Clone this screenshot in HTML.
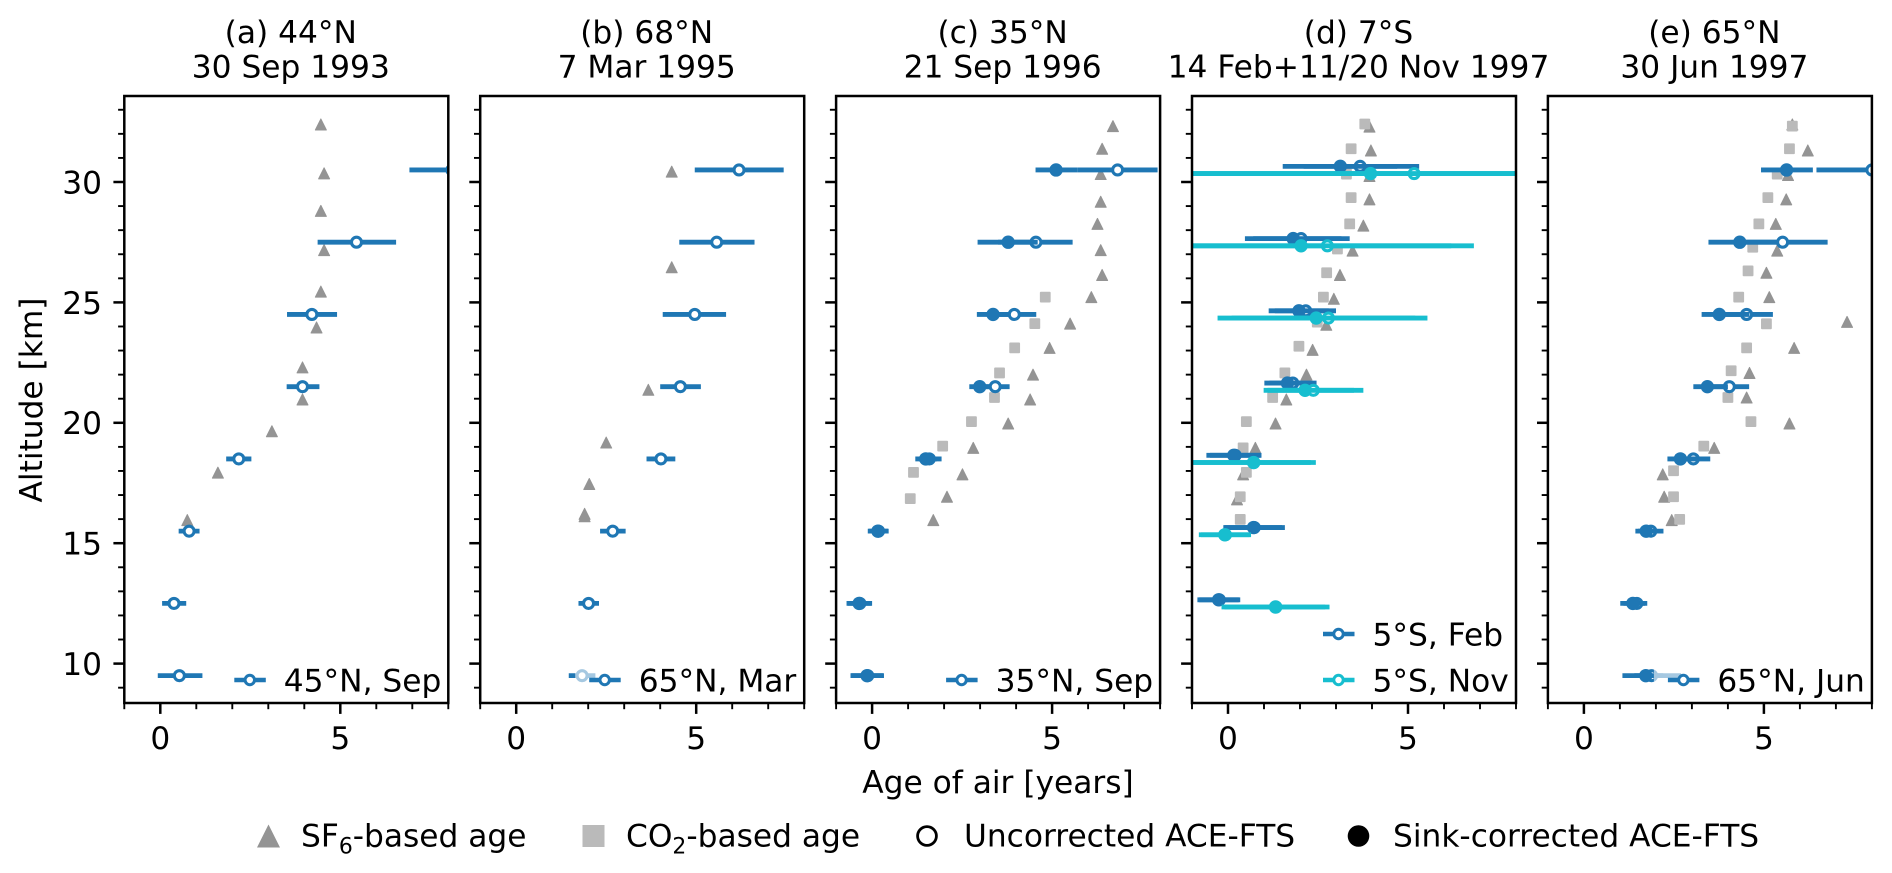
<!DOCTYPE html>
<html lang="en">
<head>
<meta charset="utf-8">
<title>Age of air profiles</title>
<style>
html,body{margin:0;padding:0;background:#fff;width:1892px;height:873px;overflow:hidden}
svg{display:block}
text{font-family:"DejaVu Sans","Liberation Sans",sans-serif;fill:#000}
</style>
</head>
<body>
<svg id="chart" xmlns="http://www.w3.org/2000/svg" width="1892" height="873" viewBox="0 0 1892 873"></svg>
<script>
// ---------- Data: ages in years, altitudes in km ----------
const xTickLabels = [0, 5];
const yTickLabels = [10, 15, 20, 25, 30];

const titlesTop = ['(a) 44°N', '(b) 68°N', '(c) 35°N', '(d) 7°S', '(e) 65°N'];
const titlesBottom = ['30 Sep 1993', '7 Mar 1995', '21 Sep 1996', '14 Feb+11/20 Nov 1997', '30 Jun 1997'];
const legendLabels = ['45°N, Sep', '65°N, Mar', '35°N, Sep', '5°S, Feb', '5°S, Nov', '65°N, Jun'];

const aSf6Alt = [32.39, 30.36, 28.8, 27.17, 25.45, 23.96, 22.3, 20.97, 19.65, 17.93, 15.96];
const aSf6Age = [4.46, 4.55, 4.46, 4.55, 4.46, 4.34, 3.95, 3.95, 3.1, 1.6, 0.75];
const aAlt = [30.5, 27.5, 24.5, 21.5, 18.5, 15.5, 12.5, 9.5];
const aOpen = [8.1, 5.45, 4.21, 3.95, 2.18, 0.8, 0.38, 0.53];
const aOpenLo = [6.92, 4.37, 3.52, 3.51, 1.83, 0.51, 0.05, -0.07];
const aOpenHi = [9.3, 6.55, 4.91, 4.42, 2.53, 1.09, 0.72, 1.17];

const bSf6Alt = [30.43, 26.46, 21.37, 19.18, 17.46, 16.22, 16.12];
const bSf6Age = [4.32, 4.32, 3.67, 2.5, 2.03, 1.9, 1.9];
const bAlt = [30.5, 27.5, 24.5, 21.5, 18.5, 15.5, 12.5, 9.5];
const bOpen = [6.19, 5.57, 4.96, 4.56, 4.02, 2.68, 2.01, 1.83];
const bOpenLo = [4.96, 4.53, 4.07, 4.0, 3.62, 2.33, 1.73, 1.46];
const bOpenHi = [7.43, 6.62, 5.83, 5.13, 4.42, 3.04, 2.3, 2.2];

const cSf6Alt = [32.32, 31.38, 30.33, 29.18, 28.26, 27.17, 26.14, 25.22, 24.12, 23.11, 22.0, 20.97, 19.97, 18.96, 17.86, 16.93, 15.96];
const cSf6Age = [6.69, 6.39, 6.35, 6.35, 6.26, 6.35, 6.39, 6.09, 5.5, 4.93, 4.47, 4.39, 3.78, 2.81, 2.51, 2.08, 1.7];
const cCo2Alt = [25.22, 24.12, 23.11, 22.07, 21.05, 20.05, 19.03, 17.94, 16.85];
const cCo2Age = [4.81, 4.52, 3.96, 3.54, 3.4, 2.76, 1.96, 1.15, 1.06];
const cAlt = [30.5, 27.5, 24.5, 21.5, 18.5, 15.5, 12.5, 9.5];
const cOpen = [6.82, 4.55, 3.95, 3.42, 1.59, 0.18, -0.34, -0.12];
const cOpenLo = [5.7, 3.5, 3.5, 3.05, 1.3, -0.1, -0.68, -0.58];
const cOpenHi = [7.93, 5.57, 4.56, 3.82, 1.93, 0.46, 0.0, 0.33];
const cSink = [5.11, 3.78, 3.36, 2.99, 1.49, 0.16, -0.36, -0.14];
const cSinkLo = [4.54, 2.93, 2.91, 2.7, 1.2, -0.12, -0.71, -0.6];
const cSinkHi = [5.7, 4.6, 3.8, 3.3, 1.8, 0.44, -0.02, 0.3];

const dSf6Alt = [32.3, 31.31, 30.25, 29.28, 28.19, 27.15, 26.14, 25.15, 24.07, 23.03, 22.0, 20.97, 19.97, 18.96, 17.86, 16.82];
const dSf6Age = [3.93, 3.97, 3.93, 3.93, 3.76, 3.46, 3.11, 2.94, 2.73, 2.35, 2.18, 1.62, 1.32, 0.76, 0.42, 0.25];
const dCo2Alt = [32.41, 31.38, 30.33, 29.35, 28.26, 27.22, 26.23, 25.22, 24.18, 23.18, 22.07, 21.05, 20.05, 18.96, 17.94, 16.93, 15.99];
const dCo2Age = [3.8, 3.42, 3.29, 3.42, 3.38, 3.04, 2.74, 2.65, 2.48, 1.97, 1.58, 1.24, 0.51, 0.42, 0.51, 0.34, 0.34];
const dFebAlt = [30.65, 27.65, 24.65, 21.65, 18.65, 15.65, 12.65];
const dFebOpen = [3.67, 2.03, 2.16, 1.8, 0.2, 0.73, -0.24];
const dFebOpenLo = [2.1, 0.7, 1.3, 1.15, -0.5, -0.1, -0.8];
const dFebOpenHi = [5.31, 3.38, 3.0, 2.46, 0.93, 1.58, 0.34];
const dFebSink = [3.12, 1.81, 1.97, 1.65, 0.16, 0.71, -0.26];
const dFebSinkLo = [1.52, 0.47, 1.13, 1.01, -0.6, -0.13, -0.85];
const dFebSinkHi = [4.7, 3.15, 2.8, 2.3, 0.9, 1.5, 0.3];
const dNovAlt = [30.35, 27.35, 24.35, 21.35, 18.35, 15.35, 12.35];
const dNovOpen = [5.17, 2.76, 2.79, 2.37, 0.72, -0.07, 1.33];
const dNovOpenLo = [-1.5, -1.3, 0.1, 1.1, -1.2, -0.75, -0.1];
const dNovOpenHi = [8.9, 6.83, 5.54, 3.76, 2.44, 0.64, 2.82];
const dNovSink = [3.96, 2.03, 2.45, 2.14, 0.71, -0.09, 1.32];
const dNovSinkLo = [-1.5, -1.4, -0.29, 0.99, -1.3, -0.81, -0.18];
const dNovSinkHi = [8.5, 6.2, 5.2, 3.5, 2.3, 0.6, 2.7];

const eSf6Alt = [32.39, 31.31, 30.29, 29.28, 28.26, 27.15, 26.23, 25.22, 24.19, 23.11, 22.07, 21.05, 19.97, 18.96, 17.86, 16.93, 15.96];
const eSf6Age = [5.79, 6.22, 5.67, 5.62, 5.33, 5.37, 5.07, 5.15, 7.31, 5.84, 4.6, 4.52, 5.71, 3.62, 2.19, 2.23, 2.44];
const eCo2Alt = [32.32, 31.38, 30.33, 29.35, 28.26, 27.29, 26.31, 25.22, 24.11, 23.11, 22.16, 21.05, 20.05, 19.03, 18.01, 16.93, 15.99];
const eCo2Age = [5.79, 5.71, 5.37, 5.11, 4.86, 4.69, 4.56, 4.3, 5.07, 4.52, 4.09, 4.0, 4.64, 3.33, 2.49, 2.49, 2.66];
const eAlt = [30.5, 27.5, 24.5, 21.5, 18.5, 15.5, 12.5, 9.5];
const eOpen = [8.0, 5.52, 4.52, 4.04, 3.04, 1.86, 1.47, 1.88];
const eOpenLo = [6.46, 4.4, 3.8, 3.5, 2.6, 1.5, 1.1, 1.4];
const eOpenHi = [9.5, 6.77, 5.25, 4.59, 3.51, 2.21, 1.76, 2.7];
const eSink = [5.63, 4.33, 3.76, 3.43, 2.68, 1.73, 1.36, 1.72];
const eSinkLo = [4.92, 3.46, 3.27, 3.04, 2.32, 1.43, 1.01, 1.07];
const eSinkHi = [6.36, 5.4, 4.6, 4.0, 3.2, 2.0, 1.7, 2.2];

// ---------- Colours ----------
const BLUE = '#1f77b4', CYAN = '#17becf', TRI = '#949494', SQ = '#bababa';

// ---------- Layout and axis functions ----------
const NS = 'http://www.w3.org/2000/svg';
const svg = document.getElementById('chart');
const AX_TOP = 96, AX_BOTTOM = 703, AX_W = 324, AX_FIRST = 124.3, AX_STEP = 355.9;
const FS = 31.25;
function axLeft(i) { return AX_FIRST + i * AX_STEP; }
function xScale(i, v) { return axLeft(i) + (v + 1) * 36; }
function yScale(alt) { return 182 + (30 - alt) * 24.08; }
function mk(tag, attrs, parent) {
  const el = document.createElementNS(NS, tag);
  for (const k in attrs) el.setAttribute(k, attrs[k]);
  parent.appendChild(el);
  return el;
}
function triPts(cx, cy, w, h) {
  return (cx - w / 2) + ',' + (cy + h / 2) + ' ' + cx + ',' + (cy - h / 2) + ' ' + (cx + w / 2) + ',' + (cy + h / 2);
}

function drawTriangles(g, i, ages, alts) {
  ages.forEach(function (v, k) {
    const el = mk('polygon', { points: triPts(xScale(i, v), yScale(alts[k]), 11, 11), fill: TRI, 'stroke-linejoin': 'round', stroke: TRI, 'stroke-width': 1 }, g);
    
    
  });
}
function drawSquares(g, i, ages, alts) {
  ages.forEach(function (v, k) {
    const el = mk('rect', { x: xScale(i, v) - 5.4, y: yScale(alts[k]) - 5.4, width: 10.8, height: 10.8, rx: 1, fill: SQ }, g);
    
    
  });
}
function drawOpen(g, i, ages, lo, hi, alts, color) {
  ages.forEach(function (v, k) {
    const y = yScale(alts[k]);
    const bar = mk('line', { x1: xScale(i, lo[k]), x2: xScale(i, hi[k]), y1: y, y2: y, stroke: color, 'stroke-width': 4.8 }, g);
    
    
    const dot = mk('circle', { cx: xScale(i, v), cy: y, r: 5, fill: '#fff', stroke: color, 'stroke-width': 3.1 }, g);
    
    
  });
}
function drawSink(g, i, ages, lo, hi, alts, color) {
  ages.forEach(function (v, k) {
    const y = yScale(alts[k]);
    const bar = mk('line', { x1: xScale(i, lo[k]), x2: xScale(i, hi[k]), y1: y, y2: y, stroke: color, 'stroke-width': 4.8 }, g);
    
    
    const dot = mk('circle', { cx: xScale(i, v), cy: y, r: 6.7, fill: color }, g);
    
    
  });
}
function drawLegendEntry(g, handleX, y, color, label) {
  const bar = mk('line', { x1: handleX, x2: handleX + 31.5, y1: y, y2: y, stroke: color, 'stroke-width': 4.6 }, g);
  
  
  const dot = mk('circle', { cx: handleX + 15.5, cy: y, r: 4.7, fill: '#fff', stroke: color, 'stroke-width': 3 }, g);
  
  
  const t = mk('text', { x: handleX + 49.5, y: y + 11.5, 'font-size': FS }, g);
  t.textContent = label;
  
  
}

// ---------- Panels ----------
for (let i = 0; i < 5; i++) {
  const L = axLeft(i), R = L + AX_W, C = L + AX_W / 2 + 4.5;
  const clip = mk('clipPath', { id: 'clip' + i }, svg);
  mk('rect', { x: L, y: AX_TOP, width: AX_W, height: AX_BOTTOM - AX_TOP }, clip);

  const panel = mk('g', {}, svg);
  
  

  const t1 = mk('text', { x: C, y: 43, 'font-size': FS, 'text-anchor': 'middle' }, panel);
  t1.textContent = titlesTop[i];
  
  
  const t2 = mk('text', { x: C, y: 77.5, 'font-size': FS, 'text-anchor': 'middle' }, panel);
  t2.textContent = titlesBottom[i];
  
  

  const g = mk('g', { 'clip-path': 'url(#clip' + i + ')' }, panel);
  
  

  if (i === 0) {
    drawTriangles(g, i, aSf6Age, aSf6Alt);
    drawOpen(g, i, aOpen, aOpenLo, aOpenHi, aAlt, BLUE);
  } else if (i === 1) {
    drawTriangles(g, i, bSf6Age, bSf6Alt);
    drawOpen(g, i, bOpen, bOpenLo, bOpenHi, bAlt, BLUE);
  } else if (i === 2) {
    drawTriangles(g, i, cSf6Age, cSf6Alt);
    drawSquares(g, i, cCo2Age, cCo2Alt);
    drawOpen(g, i, cOpen, cOpenLo, cOpenHi, cAlt, BLUE);
    drawSink(g, i, cSink, cSinkLo, cSinkHi, cAlt, BLUE);
  } else if (i === 3) {
    drawTriangles(g, i, dSf6Age, dSf6Alt);
    drawSquares(g, i, dCo2Age, dCo2Alt);
    drawOpen(g, i, dFebOpen, dFebOpenLo, dFebOpenHi, dFebAlt, BLUE);
    drawSink(g, i, dFebSink, dFebSinkLo, dFebSinkHi, dFebAlt, BLUE);
    drawOpen(g, i, dNovOpen, dNovOpenLo, dNovOpenHi, dNovAlt, CYAN);
    drawSink(g, i, dNovSink, dNovSinkLo, dNovSinkHi, dNovAlt, CYAN);
  } else {
    drawTriangles(g, i, eSf6Age, eSf6Alt);
    drawSquares(g, i, eCo2Age, eCo2Alt);
    drawOpen(g, i, eOpen, eOpenLo, eOpenHi, eAlt, BLUE);
    drawSink(g, i, eSink, eSinkLo, eSinkHi, eAlt, BLUE);
  }

  // panel legend with translucent frame
  const lg = mk('g', {}, panel);
  
  
  const handleOffset = [110, 109, 110, 131, 120][i];
  const hx = L + handleOffset;
  const boxTop = i === 3 ? 613 : 659;
  mk('rect', { x: hx - 14, y: boxTop, width: R - 1.5 - (hx - 14), height: AX_BOTTOM - 1.5 - boxTop, fill: '#fff', 'fill-opacity': 0.6 }, lg);
  if (i === 3) {
    drawLegendEntry(lg, hx, 634, BLUE, legendLabels[3]);
    drawLegendEntry(lg, hx, 680, CYAN, legendLabels[4]);
  } else {
    drawLegendEntry(lg, hx, 680, BLUE, legendLabels[i < 3 ? i : 5]);
  }

  // ticks
  for (let a = 9; a <= 33; a++) {
    const major = a % 5 === 0;
    const tick = mk('line', { x1: L - (major ? 10.9 : 6.2), x2: L, y1: yScale(a), y2: yScale(a), stroke: '#000', 'stroke-width': major ? 2.5 : 1.9 }, panel);
    
    
  }
  for (let v = -1; v <= 8; v++) {
    const major = v % 5 === 0;
    const tick = mk('line', { x1: xScale(i, v), x2: xScale(i, v), y1: AX_BOTTOM, y2: AX_BOTTOM + (major ? 10.9 : 6.2), stroke: '#000', 'stroke-width': major ? 2.5 : 1.9 }, panel);
    
    
  }
  xTickLabels.forEach(function (v) {
    const t = mk('text', { x: xScale(i, v), y: 749, 'font-size': FS, 'text-anchor': 'middle' }, panel);
    t.textContent = v;
    
    
  });
  if (i === 0) {
    yTickLabels.forEach(function (a) {
      const t = mk('text', { x: 102, y: yScale(a) + 11.4, 'font-size': FS, 'text-anchor': 'end' }, panel);
      t.textContent = a;
      
      
    });
  }

  const frame = mk('rect', { x: L, y: AX_TOP, width: AX_W, height: AX_BOTTOM - AX_TOP, fill: 'none', stroke: '#000', 'stroke-width': 2.5 }, panel);
  
  
}

// ---------- Axis titles ----------
const yTitle = mk('text', { x: 0, y: 0, 'font-size': FS, 'text-anchor': 'middle', transform: 'translate(42 400) rotate(-90)' }, svg);
yTitle.textContent = 'Altitude [km]';


const xTitle = mk('text', { x: 998, y: 793, 'font-size': FS, 'text-anchor': 'middle' }, svg);
xTitle.textContent = 'Age of air [years]';



// ---------- Figure legend ----------
const fig = mk('g', {}, svg);


const LEG_Y = 836, LEG_BASE = 846.5;

const triL = mk('polygon', { points: triPts(268.5, LEG_Y, 23, 23), fill: TRI }, fig);


const sfText = mk('text', { x: 301, y: LEG_BASE, 'font-size': FS }, fig);


sfText.appendChild(document.createTextNode('SF'));
mk('tspan', { dy: 7, 'font-size': FS * 0.7 }, sfText).textContent = '6';
mk('tspan', { dy: -7 }, sfText).textContent = '-based age';

const sqL = mk('rect', { x: 582.5, y: 825, width: 22, height: 22, fill: SQ }, fig);


const coText = mk('text', { x: 626, y: LEG_BASE, 'font-size': FS }, fig);


coText.appendChild(document.createTextNode('CO'));
mk('tspan', { dy: 7, 'font-size': FS * 0.7 }, coText).textContent = '2';
mk('tspan', { dy: -7 }, coText).textContent = '-based age';

const ringL = mk('circle', { cx: 927, cy: LEG_Y, r: 9.4, fill: '#fff', stroke: '#000', 'stroke-width': 2.8 }, fig);


const unText = mk('text', { x: 964, y: LEG_BASE, 'font-size': FS }, fig);
unText.textContent = 'Uncorrected ACE-FTS';



const dotL = mk('circle', { cx: 1358.5, cy: LEG_Y, r: 10.8, fill: '#000' }, fig);


const siText = mk('text', { x: 1393, y: LEG_BASE, 'font-size': FS }, fig);
siText.textContent = 'Sink-corrected ACE-FTS';


</script>
</body>
</html>
